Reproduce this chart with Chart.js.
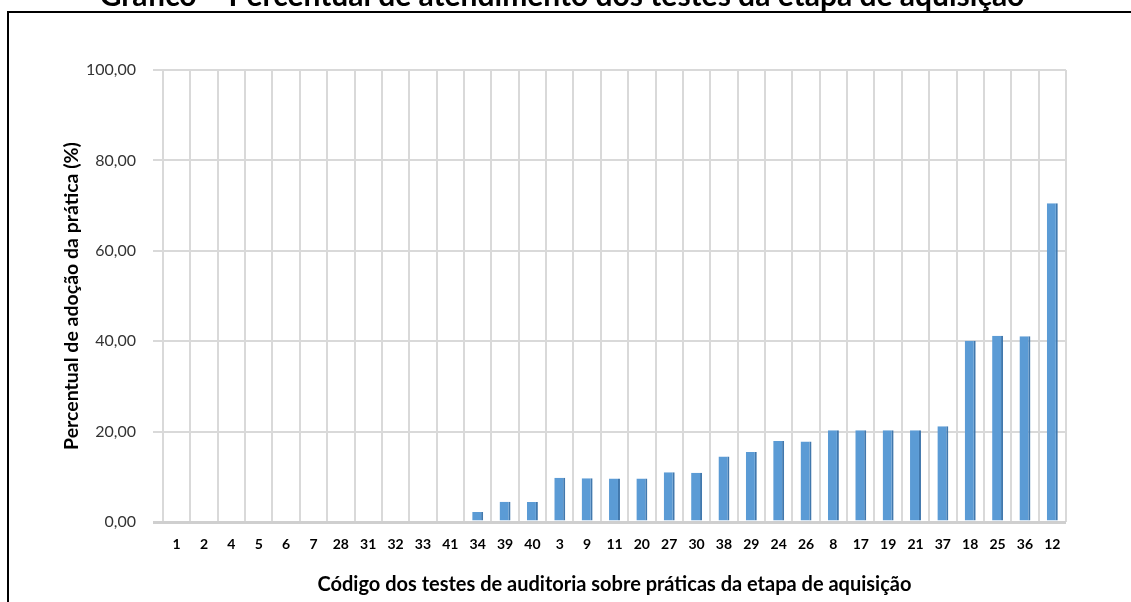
<!DOCTYPE html>
<html>
<head>
<meta charset="utf-8">
<script src="https://cdn.jsdelivr.net/npm/chart.js@4"></script>
<style>
    html, body { margin: 0; padding: 0; background: #fff; overflow: hidden; }
    #frame { position: absolute; left: 7px; top: 11px; width: 1200px; height: 700px; border: 2px solid #000; }
    #wrap { position: absolute; left: 0; top: -24px; width: 1131px; height: 626px; }
</style>
</head>
<body>
<div id="frame"></div>
<div id="wrap"><canvas id="myChart"></canvas></div>
<script>
// test codes, ordered as in the picture
const codes = ['1', '2', '4', '5', '6', '7', '28', '31', '32', '33', '41', '34', '39', '40', '3', '9', '11',
    '20', '27', '30', '38', '29', '24', '26', '8', '17', '19', '21', '37', '18', '25', '36', '12'];

// percentual de adoção (%)
const adoption = [0, 0, 0, 0, 0, 0, 0, 0, 0, 0, 0, 2.2, 4.5, 4.4, 9.8, 9.7, 9.6,
    9.6, 11.0, 10.9, 14.5, 15.5, 17.9, 17.8, 20.3, 20.3, 20.3, 20.3, 21.2, 40.1, 41.2, 41.1, 70.5];

const yTicks = [0, 20, 40, 60, 80, 100];

const ctx = document.getElementById('myChart').getContext('2d');
new Chart(ctx, {
    type: 'bar',
    data: {
        labels: codes,
        datasets: [{
            data: adoption,
            backgroundColor: '#5b9bd5',
            borderColor: '#4178ad',
            borderWidth: { left: 0, right: 2, top: 0, bottom: 0 },
            borderSkipped: false,
            barPercentage: 0.4,
            categoryPercentage: 1.0
        }]
    },
    options: {
        responsive: true,
        maintainAspectRatio: false,
        animation: false,
        layout: {
            padding: { left: 58, right: 65, top: 0, bottom: 5 }
        },
        plugins: {
            legend: { display: false },
            tooltip: { enabled: false },
            title: {
                display: true,
                text: 'Gráfico – Percentual de atendimento dos testes da etapa de aquisição',
                color: '#000',
                font: { family: 'Lato', size: 30, weight: 'bold' },
                padding: { top: 2, bottom: 56 }
            }
        },
        scales: {
            x: {
                afterFit: function(axis) { axis.height = 75; },
                grid: {
                    offset: true,
                    color: '#d9d9d9',
                    lineWidth: 2,
                    tickLength: 0
                },
                border: { display: false },
                ticks: {
                    color: '#000',
                    padding: 14,
                    maxRotation: 0,
                    autoSkip: false,
                    font: { family: 'Lato', size: 14, weight: 'bold' }
                },
                title: {
                    display: true,
                    text: 'Código dos testes de auditoria sobre práticas da etapa de aquisição',
                    color: '#000',
                    font: { family: 'Lato', size: 20, weight: 'bold' },
                    padding: { top: 10, bottom: 0 }
                }
            },
            y: {
                min: 0,
                max: 100,
                afterFit: function(axis) { axis.width = 105; },
                afterBuildTicks: function(axis) {
                    axis.ticks = yTicks.map(v => ({ value: v }));
                },
                grid: {
                    color: function(c) { return c.tick && c.tick.value === 0 ? '#cfcfcf' : '#d9d9d9'; },
                    lineWidth: function(c) { return c.tick && c.tick.value === 0 ? 3 : 2; },
                    tickLength: 10
                },
                border: { display: false },
                ticks: {
                    color: '#333',
                    padding: 17,
                    font: { family: 'Lato', size: 16 },
                    callback: function(v) { return v.toFixed(2).replace('.', ','); }
                },
                title: {
                    display: true,
                    text: 'Percentual de adoção da prática (%)',
                    color: '#000',
                    font: { family: 'Lato', size: 19.5, weight: 'bold' },
                    padding: { top: 2, bottom: 0 }
                }
            }
        }
    }
});
</script>
</body>
</html>
